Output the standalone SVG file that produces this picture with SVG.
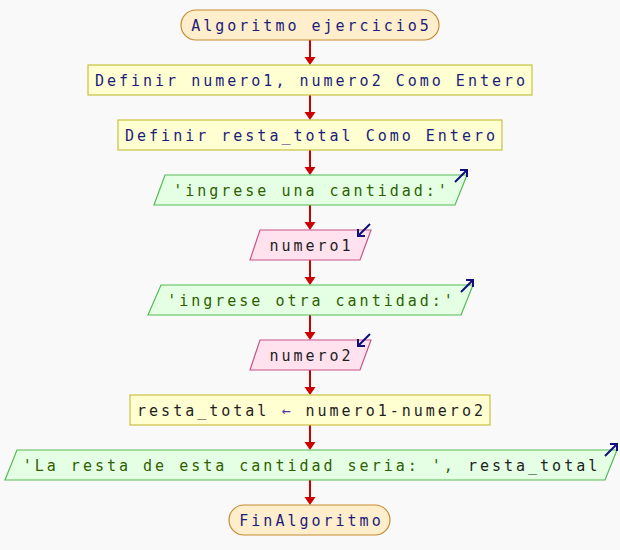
<svg xmlns="http://www.w3.org/2000/svg" width="620" height="550" viewBox="0 0 620 550">
  <defs>
    <style>
      .term { fill: #ffeecc; stroke: #c88a30; stroke-width: 1.2; }
      .proc { fill: #ffffd2; stroke: #c8c040; stroke-width: 1.2; }
      .out  { fill: #e4ffe4; stroke: #55bb55; stroke-width: 1.2; }
      .in   { fill: #ffe2ee; stroke: #c85588; stroke-width: 1.2; }
      text { font-family: "DejaVu Sans Mono", "Liberation Mono", monospace; font-size: 15px; letter-spacing: 3px; text-anchor: middle; }
      .t-blue  { fill: #1c1c7c; }
      .t-green { fill: #2f6000; }
      .t-dark  { fill: #1e1e1e; }
      .flow { stroke: #cc0000; stroke-width: 2; fill: none; }
      .head { fill: #cc0000; }
      .io { stroke: #10107c; stroke-width: 2; fill: none; }
    </style>
  </defs>

  <rect x="0" y="0" width="620" height="550" fill="#f9f9f9"/>

  <!-- connectors -->
  <g id="connectors">
    <path class="flow" d="M310 40V58 M310 95V113 M310 150V168 M310 205V223 M310 260V278 M310 315V333 M310 370V388 M310 425V443 M310 480V498"/>
    <polygon class="head" points="304.5,57 315.5,57 310,65"/>
    <polygon class="head" points="304.5,112 315.5,112 310,120"/>
    <polygon class="head" points="304.5,167 315.5,167 310,175"/>
    <polygon class="head" points="304.5,222 315.5,222 310,230"/>
    <polygon class="head" points="304.5,277 315.5,277 310,285"/>
    <polygon class="head" points="304.5,332 315.5,332 310,340"/>
    <polygon class="head" points="304.5,387 315.5,387 310,395"/>
    <polygon class="head" points="304.5,442 315.5,442 310,450"/>
    <polygon class="head" points="304.5,497 315.5,497 310,505"/>
  </g>

  <g id="start">
    <rect class="term" x="181" y="10" width="258" height="30" rx="15" ry="15"/>
    <text class="t-blue" x="311.5" y="30.5">Algoritmo ejercicio5</text>
  </g>

  <g id="def1">
    <rect class="proc" x="88" y="65" width="444" height="30"/>
    <text class="t-blue" x="311.5" y="85.5">Definir numero1, numero2 Como Entero</text>
  </g>

  <g id="def2">
    <rect class="proc" x="118" y="120" width="384" height="30"/>
    <text class="t-blue" x="311.5" y="140.5">Definir resta_total Como Entero</text>
  </g>

  <g id="out1">
    <polygon class="out" points="165,175 467,175 455,205 154,205"/>
    <text class="t-green" x="311.5" y="195.5">'ingrese una cantidad:'</text>
    <path class="io" d="M455 182L467 170 M460 170H467V177"/>
  </g>

  <g id="in1">
    <polygon class="in" points="260,230 371,230 360,260 250,260"/>
    <text class="t-dark" x="311.5" y="250.5">numero1</text>
    <path class="io" d="M370 224L358 236 M358 229V236H365"/>
  </g>

  <g id="out2">
    <polygon class="out" points="161,285 473,285 461,315 148,315"/>
    <text class="t-green" x="311.5" y="305.5">'ingrese otra cantidad:'</text>
    <path class="io" d="M461 292L473 280 M466 280H473V287"/>
  </g>

  <g id="in2">
    <polygon class="in" points="260,340 371,340 360,370 250,370"/>
    <text class="t-dark" x="311.5" y="360.5">numero2</text>
    <path class="io" d="M370 334L358 346 M358 339V346H365"/>
  </g>

  <g id="assign">
    <rect class="proc" x="130" y="395" width="360" height="30"/>
    <text class="t-dark" x="311.5" y="415.5">resta_total <tspan fill="#4a3aa0">←</tspan> numero1-numero2</text>
  </g>

  <g id="out3">
    <polygon class="out" points="17,450 617,450 605,480 5,480"/>
    <text class="t-green" x="311.5" y="470.5">'La resta de esta cantidad seria: ', <tspan class="t-dark">resta_total</tspan></text>
    <path class="io" d="M605 456L617 444 M610 444H617V451"/>
  </g>

  <g id="end">
    <rect class="term" x="229" y="505" width="161" height="30" rx="15" ry="15"/>
    <text class="t-blue" x="311.5" y="525.5">FinAlgoritmo</text>
  </g>
</svg>
